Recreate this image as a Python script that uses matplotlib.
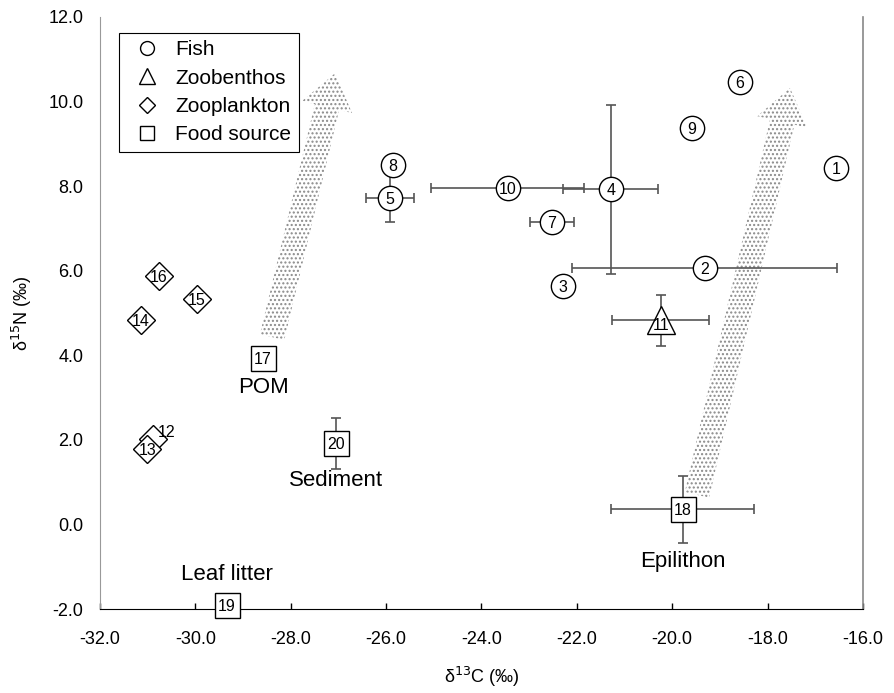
import matplotlib
matplotlib.use("Agg")
import matplotlib.pyplot as plt
from matplotlib.patches import FancyArrowPatch, ArrowStyle
from matplotlib.lines import Line2D

plt.rcParams['font.family'] = ['Liberation Sans', 'DejaVu Sans']

# fish (circles)
fish_id = [1, 2, 3, 4, 5, 6, 7, 8, 9, 10]
fish_x = [-16.57, -19.32, -22.29, -21.29, -25.92, -18.58, -22.52, -25.86, -19.59, -23.45]
fish_y = [8.43, 6.06, 5.64, 7.93, 7.72, 10.46, 7.15, 8.50, 9.37, 7.95]
fish_xerr = [0, 2.78, 0, 1.0, 0.5, 0, 0.47, 0, 0, 1.6]
fish_yerr = [0, 0, 0, 2.0, 0.57, 0, 0, 0, 0, 0]

# zoobenthos (triangle)
benthos_id = [11]
benthos_x = [-20.24]
benthos_y = [4.83]
benthos_xerr = [1.02]
benthos_yerr = [0.6]

# zooplankton (diamonds)
plankton_id = [12, 13, 14, 15, 16]
plankton_x = [-30.89, -31.01, -31.14, -29.97, -30.76]
plankton_y = [2.02, 1.78, 4.83, 5.33, 5.87]

# food sources (squares)
food_id = [17, 18, 19, 20]
food_name = ['POM', 'Epilithon', 'Leaf litter', 'Sediment']
food_x = [-28.58, -19.78, -29.34, -27.05]
food_y = [3.93, 0.36, -1.90, 1.92]
food_xerr = [0, 1.5, 0, 0]
food_yerr = [0, 0.79, 0, 0.6]

# trend arrows (tail -> tip)
arrow_start = [(-28.39, 4.43), (-19.48, 0.70)]
arrow_end = [(-27.07, 10.67), (-17.53, 10.32)]

x_ticks = [-32, -30, -28, -26, -24, -22, -20, -18, -16]
y_ticks = [-2, 0, 2, 4, 6, 8, 10, 12]

fig = plt.figure(figsize=(8.95, 6.93), dpi=100)
ax = fig.add_axes([0.1117, 0.1212, 0.8525, 0.8543])

# stippled arrows behind everything
for (x0, y0), (x1, y1) in zip(arrow_start, arrow_end):
    arr = FancyArrowPatch((x0, y0), (x1, y1),
                          arrowstyle=ArrowStyle.Simple(head_length=25, head_width=37, tail_width=18),
                          mutation_scale=1, shrinkA=0, shrinkB=0,
                          facecolor='none', edgecolor='#8a8a8a', linewidth=0,
                          hatch='....', zorder=1)
    ax.add_patch(arr)

ebar = dict(fmt='none', ecolor='#555555', elinewidth=1.2, capsize=3.5, capthick=1.2, zorder=2)


def draw_err(xs, ys, xe, ye):
    for x, y, dx, dy in zip(xs, ys, xe, ye):
        if dx or dy:
            ax.errorbar([x], [y], xerr=[dx] if dx else None, yerr=[dy] if dy else None, **ebar)


draw_err(fish_x, fish_y, fish_xerr, fish_yerr)
draw_err(benthos_x, benthos_y, benthos_xerr, benthos_yerr)
draw_err(food_x, food_y, food_xerr, food_yerr)

mk = dict(linestyle='none', markerfacecolor='white', markeredgecolor='black',
          markeredgewidth=1.0, zorder=3, clip_on=False)
ax.plot(fish_x, fish_y, marker='o', markersize=17.5, **mk)
ax.plot(benthos_x, benthos_y, marker='^', markersize=20, **mk)
for x, y in zip(plankton_x, plankton_y):
    ax.plot([x], [y], marker='D', markersize=14, **mk)
ax.plot(food_x, food_y, marker='s', markersize=18, **mk)

num = dict(ha='center', va='center_baseline', fontsize=11.5, zorder=4)
for i, x, y in zip(fish_id, fish_x, fish_y):
    ax.text(x, y, str(i), **num)
for i, x, y in zip(benthos_id, benthos_x, benthos_y):
    ax.annotate(str(i), (x, y), xytext=(0, -3), textcoords='offset points', **num)
for i, x, y in zip(plankton_id, plankton_x, plankton_y):
    if i == 12:
        ax.annotate(str(i), (x, y), xytext=(10, 6), textcoords='offset points', **num)
    else:
        ax.text(x, y, str(i), **num)
for i, x, y in zip(food_id, food_x, food_y):
    ax.text(x, y, str(i), **num)

# food source names
name_offset = {'POM': -21, 'Epilithon': -38, 'Leaf litter': 22, 'Sediment': -27}
for name, x, y in zip(food_name, food_x, food_y):
    ax.annotate(name, (x, y), xytext=(0, name_offset[name]), textcoords='offset points',
                ha='center', va='center', fontsize=16, zorder=4)

ax.set_xlim(-32, -16)
ax.set_ylim(-2, 12)
ax.set_xticks(x_ticks)
ax.set_yticks(y_ticks)
ax.set_xticklabels(['%.1f' % v for v in x_ticks])
ax.set_yticklabels(['%.1f' % v for v in y_ticks])
ax.tick_params(axis='x', direction='in', length=4, width=1, pad=16, labelsize=13)
ax.tick_params(axis='y', length=0, pad=12, labelsize=13)

ax.spines['top'].set_visible(False)
ax.spines['left'].set_color('#999999')
ax.spines['right'].set_color('#888888')
ax.spines['right'].set_linewidth(1.2)
ax.spines['bottom'].set_color('black')

ax.set_xlabel('δ$^{13}$C (‰)', fontsize=13, labelpad=12)
ax.set_ylabel('δ$^{15}$N (‰)', fontsize=13, labelpad=10)

handles = [Line2D([], [], marker='o', markersize=10, linestyle='none',
                  markerfacecolor='white', markeredgecolor='black'),
           Line2D([], [], marker='^', markersize=11, linestyle='none',
                  markerfacecolor='white', markeredgecolor='black'),
           Line2D([], [], marker='D', markersize=8, linestyle='none',
                  markerfacecolor='white', markeredgecolor='black'),
           Line2D([], [], marker='s', markersize=10, linestyle='none',
                  markerfacecolor='white', markeredgecolor='black')]
leg = ax.legend(handles, ['Fish', 'Zoobenthos', 'Zooplankton', 'Food source'],
                loc='upper left', bbox_to_anchor=(0.025, 0.973), borderaxespad=0,
                fontsize=15, fancybox=False, edgecolor='black', framealpha=1,
                handlelength=2.0, handletextpad=0.35, labelspacing=0.45,
                borderpad=0.35)
leg.get_frame().set_linewidth(0.8)
leg.set_zorder(5)

fig.savefig('out.png', dpi=100)
